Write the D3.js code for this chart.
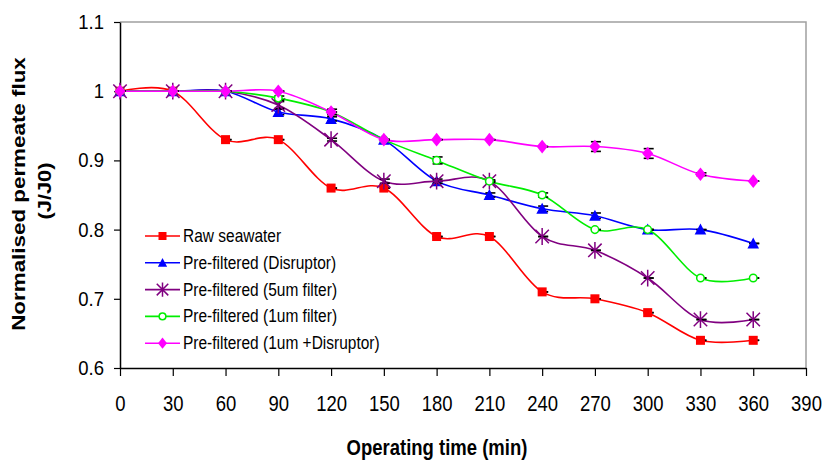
<!DOCTYPE html>
<html>
<head>
<meta charset="utf-8">
<script src="https://cdn.jsdelivr.net/npm/d3@7"></script>
<style>
  body { margin: 0; background: #fff; }
  svg { display: block; font-family: "Liberation Sans", Arial, sans-serif; }
</style>
</head>
<body>
<div id="chart"></div>
<script>
// operating time (min) and normalised flux J/J0 per run
var times = [0, 30, 60, 90, 120, 150, 180, 210, 240, 270, 300, 330, 360];
var rawSeawater = [1, 1, 0.93, 0.93, 0.86, 0.86, 0.79, 0.79, 0.71, 0.70, 0.68, 0.64, 0.64];
var disruptor = [1, 1, 1, 0.97, 0.96, 0.93, 0.87, 0.85, 0.83, 0.82, 0.80, 0.80, 0.78];
var filter5um = [1, 1, 1, 0.98, 0.93, 0.87, 0.87, 0.87, 0.79, 0.77, 0.73, 0.67, 0.67];
var filter1um = [1, 1, 1, 0.99, 0.97, 0.93, 0.90, 0.87, 0.85, 0.80, 0.80, 0.73, 0.73];
var filter1umDisruptor = [1, 1, 1, 1, 0.97, 0.93, 0.93, 0.93, 0.92, 0.92, 0.91, 0.88, 0.87];

// error bar half-lengths (same units)
var errRaw = [0, 0, 0, 0, 0, 0, 0, 0, 0, 0, 0, 0, 0];
var errDisruptor = [0, 0, 0, 0.004, 0.003, 0, 0, 0.003, 0.004, 0.004, 0, 0, 0];
var err5um = [0, 0, 0, 0.005, 0.002, 0.003, 0.003, 0, 0, 0, 0, 0, 0];
var err1um = [0, 0, 0, 0.003, 0, 0, 0.005, 0.002, 0.003, 0, 0, 0, 0];
var err1umDisruptor = [0, 0, 0, 0, 0.004, 0, 0, 0, 0, 0.007, 0.007, 0.002, 0];

var seriesNames = ["Raw seawater", "Pre-filtered (Disruptor)", "Pre-filtered (5um filter)",
                   "Pre-filtered (1um filter)", "Pre-filtered (1um +Disruptor)"];
var xTicks = [0, 30, 60, 90, 120, 150, 180, 210, 240, 270, 300, 330, 360, 390];
var yTicks = [0.6, 0.7, 0.8, 0.9, 1, 1.1];

var series = [
  { name: seriesNames[0], vals: rawSeawater, err: errRaw, color: "#ff0000", mark: "square" },
  { name: seriesNames[1], vals: disruptor, err: errDisruptor, color: "#0000ff", mark: "triangle" },
  { name: seriesNames[2], vals: filter5um, err: err5um, color: "#800080", mark: "star" },
  { name: seriesNames[3], vals: filter1um, err: err1um, color: "#00ee00", mark: "circle" },
  { name: seriesNames[4], vals: filter1umDisruptor, err: err1umDisruptor, color: "#ff00ff", mark: "diamond" }
];

var W = 824, H = 460,
    plotL = 120, plotT = 22, plotR = 806, plotB = 368;

var x = d3.scaleLinear().domain([0, 390]).range([plotL, plotR]);
var y = d3.scaleLinear().domain([0.6, 1.1]).range([plotB, plotT]);

var svg = d3.select("#chart").append("svg")
    .attr("width", W)
    .attr("height", H);

// plot frame: grey on top/right
svg.append("path")
    .attr("d", "M" + plotL + "," + plotT + "H" + plotR + "V" + plotB)
    .attr("fill", "none")
    .attr("stroke", "#a0a0a0")
    .attr("stroke-width", 1.5);

// axes
var xAxis = svg.append("g")
    .attr("transform", "translate(0," + plotB + ")")
    .call(d3.axisBottom(x).tickValues(xTicks).tickSize(8).tickSizeOuter(0).tickPadding(0)
      .tickFormat(d3.format("")));
var yAxis = svg.append("g")
    .attr("transform", "translate(" + plotL + ",0)")
    .call(d3.axisLeft(y).tickValues(yTicks).tickSize(6).tickSizeOuter(0).tickPadding(0)
      .tickFormat(d3.format("")));

[xAxis, yAxis].forEach(function(a) {
  a.select(".domain").attr("stroke", "#000").attr("stroke-width", 1.5);
  a.selectAll(".tick line").attr("stroke", "#000").attr("stroke-width", 1.2);
  a.selectAll("text").attr("fill", "#000").attr("font-size", "18.5px")
    .attr("font-family", "'Liberation Sans', Arial, sans-serif");
});
// taller glyphs as in the source image
xAxis.selectAll(".tick text").attr("y", 0).attr("dy", 0)
    .attr("transform", "translate(0,42.5) scale(1,1.15)");
yAxis.selectAll(".tick text").attr("x", 0).attr("dy", 0)
    .attr("transform", "translate(-16,6.5) scale(1,1.1)");

// axis titles
svg.append("text")
    .attr("transform", "translate(437,455) scale(1,1.15)")
    .attr("text-anchor", "middle")
    .attr("font-size", "18.5px")
    .attr("font-weight", "bold")
    .text("Operating time (min)");

svg.append("text")
    .attr("transform", "translate(25,194) rotate(-90) scale(1.28,1)")
    .attr("text-anchor", "middle")
    .attr("font-size", "17.5px")
    .attr("font-weight", "bold")
    .text("Normalised permeate flux");
svg.append("text")
    .attr("transform", "translate(51,191) rotate(-90) scale(1.25,1)")
    .attr("text-anchor", "middle")
    .attr("font-size", "17.5px")
    .attr("font-weight", "bold")
    .text("(J/J0)");

// markers
function drawMarker(g, type, color, s) {
  if (type === "square") {
    g.append("rect").attr("x", -s / 2).attr("y", -s / 2).attr("width", s).attr("height", s)
      .attr("fill", color);
  } else if (type === "triangle") {
    g.append("path").attr("d", "M0," + (-s * 0.6) + "L" + (s * 0.58) + "," + (s * 0.5) + "L" + (-s * 0.58) + "," + (s * 0.5) + "Z")
      .attr("fill", color);
  } else if (type === "diamond") {
    g.append("path").attr("d", "M0," + (-s * 0.62) + "L" + (s * 0.5) + ",0L0," + (s * 0.62) + "L" + (-s * 0.5) + ",0Z")
      .attr("fill", color);
  } else if (type === "circle") {
    g.append("circle").attr("r", s * 0.42).attr("fill", "#fff")
      .attr("stroke", color).attr("stroke-width", 1.5);
  } else if (type === "star") {
    var r = s * 0.6, d = r * 0.8;
    g.append("path").attr("d", "M0," + (-r) + "V" + r + "M" + (-d) + "," + (-d) + "L" + d + "," + d + "M" + (-d) + "," + d + "L" + d + "," + (-d))
      .attr("stroke", color).attr("stroke-width", 1.5).attr("fill", "none");
  }
}

var line = d3.line()
    .x(function(d) { return x(d.t); })
    .y(function(d) { return y(d.v); })
    .curve(d3.curveCardinal.tension(0));

var markSize = { square: 9, triangle: 10, star: 14, circle: 9, diamond: 11 };

series.forEach(function(s) {
  var pts = times.map(function(t, i) { return { t: t, v: s.vals[i], e: s.err[i] }; });

  svg.append("path")
      .datum(pts)
      .attr("d", line)
      .attr("fill", "none")
      .attr("stroke", s.color)
      .attr("stroke-width", 1.6);

  var eb = svg.append("g").selectAll("g")
      .data(pts)
      .enter().append("g")
      .attr("stroke", "#000")
      .attr("stroke-width", 1.6);
  eb.append("line")
      .attr("x1", function(d) { return x(d.t) + 1; })
      .attr("x2", function(d) { return x(d.t) + 1; })
      .attr("y1", function(d) { return y(d.v + d.e); })
      .attr("y2", function(d) { return y(d.v - d.e); });
  eb.append("line")
      .attr("x1", function(d) { return x(d.t) - 4; })
      .attr("x2", function(d) { return x(d.t) + 6; })
      .attr("y1", function(d) { return y(d.v + d.e); })
      .attr("y2", function(d) { return y(d.v + d.e); });
  eb.append("line")
      .attr("x1", function(d) { return x(d.t) - 4; })
      .attr("x2", function(d) { return x(d.t) + 6; })
      .attr("y1", function(d) { return y(d.v - d.e); })
      .attr("y2", function(d) { return y(d.v - d.e); });

  svg.append("g").selectAll("g")
      .data(pts)
      .enter().append("g")
      .attr("transform", function(d) { return "translate(" + x(d.t) + "," + y(d.v) + ")"; })
      .each(function() { drawMarker(d3.select(this), s.mark, s.color, markSize[s.mark]); });
});

// legend
var legend = svg.append("g").attr("transform", "translate(145,236)");
var legendSize = { square: 8, triangle: 8, star: 12, circle: 8, diamond: 9 };
series.forEach(function(s, i) {
  var row = legend.append("g").attr("transform", "translate(0," + (i * 26.8) + ")");
  row.append("line").attr("x1", 0).attr("x2", 35).attr("y1", 0).attr("y2", 0)
      .attr("stroke", s.color).attr("stroke-width", 1.6);
  drawMarker(row.append("g").attr("transform", "translate(17.5,0)"), s.mark, s.color, legendSize[s.mark]);
  row.append("text")
      .attr("transform", "translate(38,6) scale(1,1.15)")
      .attr("font-size", "15.5px")
      .text(s.name);
});
</script>
</body>
</html>
